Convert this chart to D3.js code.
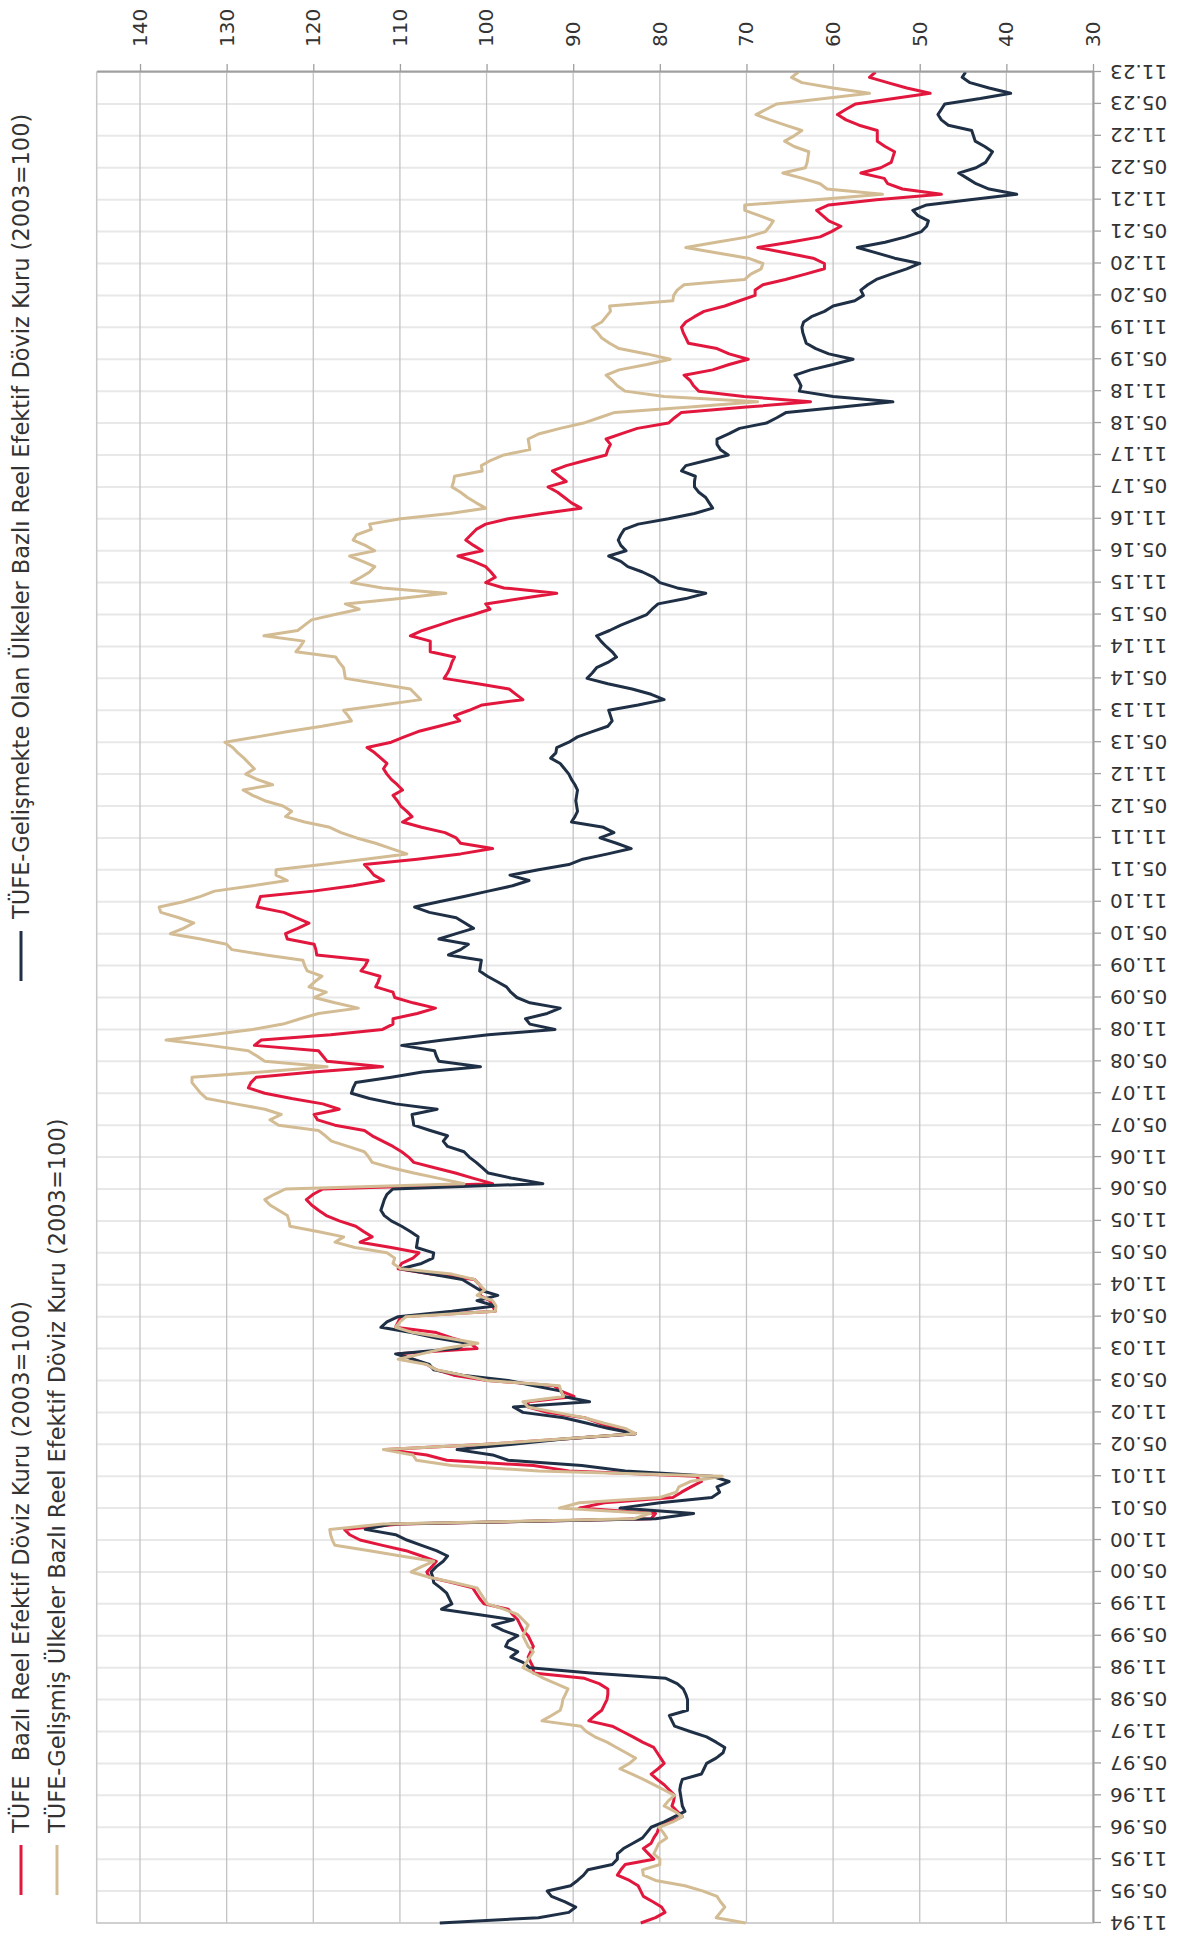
<!DOCTYPE html>
<html>
<head>
<meta charset="utf-8">
<script src="https://cdn.jsdelivr.net/npm/d3@7"></script>
<style>
  body { margin: 0; background: #ffffff; }
  svg { display: block; font-family: "DejaVu Sans", sans-serif; }
</style>
</head>
<body>
<div class="chart"></div>
<script>
// ************************ DATA ************************
// monthly values, Nov 1994 .. Nov 2023 (2003=100)

// TÜFE Bazlı Reel Efektif Döviz Kuru
const tufe = [
  82.2, 80.5, 79.4, 79.8, 80.8, 81.9, 82.2, 82.5, 83.5, 84.9, 84.5, 84.0,
  80.7, 81.3, 81.9, 81.0, 80.7, 80.3, 80.1, 78.8, 77.4, 78.0, 78.6, 78.4,
  78.3, 78.9, 79.5, 80.3, 81.0, 80.2, 79.5, 79.9, 80.3, 80.7, 82.0, 83.1,
  84.3, 85.5, 88.2, 87.5, 86.7, 86.4, 86.1, 86.0, 86.0, 87.0, 88.7, 94.6,
  94.6, 94.9, 95.2, 94.9, 94.6, 94.9, 95.2, 95.8, 96.1, 96.4, 97.0, 97.5,
  100.3, 100.8, 101.2, 101.6, 104.0, 106.6, 106.9, 106.3, 105.8, 107.5, 109.3, 112.0,
  114.6, 115.8, 116.4, 110.0, 81.0, 80.5, 89.3, 86.4, 78.5, 77.5, 76.4, 75.2,
  75.8, 90.5, 94.6, 104.6, 106.9, 111.6, 100.0, 91.1, 82.8, 85.2, 87.0, 88.7,
  93.0, 95.2, 95.2, 89.9, 91.4, 92.2, 99.9, 103.8, 105.8, 106.9, 108.5, 110.2,
  101.1, 101.9, 104.0, 105.8, 110.5, 110.2, 109.9, 99.0, 99.3, 99.6, 100.8, 100.5,
  100.8, 101.4, 106.4, 110.2, 109.8, 108.5, 107.8, 111.0, 114.6, 113.2, 114.2, 115.1,
  117.0, 118.5, 119.4, 120.2, 120.8, 120.0, 118.9, 99.3, 101.5, 103.6, 106.0, 108.4,
  109.0, 109.8, 110.8, 112.0, 113.2, 114.1, 117.5, 119.5, 119.9, 117.0, 118.9, 122.5,
  125.6, 127.5, 127.2, 126.6, 120.0, 112.0, 118.4, 118.9, 119.4, 126.8, 126.0, 118.0,
  112.0, 110.8, 110.8, 108.0, 105.9, 108.5, 110.6, 110.8, 112.8, 112.5, 112.3, 114.5,
  114.0, 113.7, 119.6, 119.7, 119.9, 123.0, 123.2, 121.8, 120.5, 122.0, 123.4, 126.5,
  126.3, 126.1, 120.0, 115.4, 111.9, 113.0, 113.5, 114.1, 108.0, 103.0, 99.3, 103.0,
  103.5, 104.8, 107.5, 109.7, 108.6, 109.2, 109.9, 110.3, 110.8, 109.7, 110.3, 111.0,
  111.5, 111.9, 111.5, 112.2, 112.9, 113.8, 111.0, 109.5, 107.9, 105.5, 103.1, 103.7,
  102.0, 100.5, 95.8, 96.6, 97.4, 101.0, 104.9, 104.5, 104.2, 104.0, 103.7, 106.5,
  106.5, 106.5, 108.8, 107.4, 105.5, 103.7, 101.5, 99.6, 100.1, 96.0, 91.9, 98.0,
  100.1, 99.0, 99.5, 100.1, 101.5, 103.3, 100.5, 101.5, 102.4, 101.8, 101.2, 100.1,
  97.5, 93.5, 89.1, 90.2, 91.0, 91.8, 92.9, 90.8, 91.6, 92.4, 90.8, 88.5,
  86.2, 86.0, 85.7, 86.2, 84.4, 82.6, 79.0, 78.3, 77.5, 70.0, 62.6, 70.3,
  75.5, 76.1, 76.5, 77.2, 73.9, 72.0, 69.8, 72.0, 73.4, 76.7, 77.0, 77.3,
  77.5, 77.0, 76.0, 74.9, 72.5, 70.8, 69.0, 69.0, 68.1, 65.5, 63.2, 61.0,
  61.0, 62.3, 65.5, 68.7, 65.0, 61.5, 60.2, 59.1, 60.5, 61.2, 61.9, 60.5,
  55.0, 47.5, 52.0, 53.7, 54.1, 56.8, 54.5, 53.3, 53.1, 52.9, 54.0, 54.9,
  54.9, 54.9, 57.0, 58.5, 59.5, 58.5, 57.4, 53.0, 48.8, 51.5, 53.7, 55.8,
  55.1
]

// TÜFE-Gelişmekte Olan Ülkeler Bazlı Reel Efektif Döviz Kuru
const gelismekte = [
  105.4, 94.0, 90.5, 89.7, 91.0, 92.5, 93.0, 90.3, 89.5, 88.8, 88.3, 85.5,
  84.9, 84.9, 84.2, 83.1, 82.0, 81.5, 81.0, 79.5, 78.3, 77.1, 77.4, 77.5,
  77.6, 77.7, 77.6, 77.4, 75.2, 74.9, 74.6, 73.5, 72.7, 72.5, 73.5, 74.6,
  76.5, 78.3, 78.6, 78.9, 76.8, 76.8, 76.8, 77.0, 77.3, 78.0, 79.3, 88.0,
  95.0, 95.8, 97.2, 96.4, 97.8, 97.5, 96.4, 98.1, 99.3, 96.9, 101.0, 105.2,
  104.0, 104.3, 104.6, 105.3, 106.1, 106.2, 106.4, 105.8, 105.0, 104.5, 105.8, 107.5,
  109.2, 110.5, 114.0, 111.0, 80.5, 76.1, 84.6, 80.0, 74.0, 73.1, 73.4, 72.0,
  74.0, 84.0, 89.0, 97.5, 99.3, 103.4, 97.0, 91.1, 82.8, 86.0, 88.5, 91.1,
  95.8, 96.9, 88.1, 91.1, 91.4, 94.5, 97.5, 102.8, 106.1, 106.6, 108.5, 110.5,
  103.4, 102.2, 105.8, 108.7, 112.2, 111.5, 110.2, 104.0, 99.0, 101.1, 98.7, 100.8,
  101.8, 102.8, 106.4, 109.9, 107.5, 106.2, 106.1, 108.1, 108.0, 107.9, 108.8, 109.8,
  111.0, 111.8, 112.2, 112.0, 111.8, 111.5, 110.8, 93.5, 97.0, 99.8, 100.5, 101.2,
  102.0, 102.6, 104.5, 105.0, 104.5, 106.5, 108.4, 108.5, 108.6, 105.7, 110.5, 113.5,
  115.6, 115.4, 115.1, 111.0, 107.4, 100.7, 105.5, 105.8, 106.0, 109.8, 105.0, 99.8,
  92.1, 95.0, 95.5, 93.0, 91.5, 95.0, 96.5, 97.2, 97.7, 98.8, 99.9, 100.8,
  100.7, 100.6, 104.4, 103.0, 102.1, 105.5, 103.5, 101.5, 102.5, 103.5, 106.6, 108.3,
  105.5, 102.6, 99.8, 97.0, 95.1, 97.3, 94.0, 90.5, 88.9, 86.0, 83.3, 85.0,
  86.9, 85.3, 86.5, 90.2, 89.8, 89.5, 89.6, 89.7, 89.6, 89.5, 89.8, 90.2,
  90.5, 91.0, 91.5, 92.6, 92.0, 91.9, 90.5, 89.5, 87.8, 86.0, 85.5, 85.7,
  85.9, 82.5, 79.5, 81.0, 83.2, 86.0, 88.4, 87.8, 87.3, 86.0, 85.0, 85.5,
  86.2, 86.8, 87.3, 85.8, 84.5, 83.0, 81.5, 80.9, 80.2, 77.0, 74.7, 78.0,
  80.0, 80.7, 82.0, 83.7, 84.5, 85.9, 83.9, 84.5, 84.8, 84.5, 84.1, 82.5,
  79.0, 76.0, 73.9, 74.3, 74.7, 75.5, 76.0, 76.0, 75.9, 77.5, 77.0, 74.5,
  72.1, 73.0, 73.4, 73.4, 72.0, 70.8, 67.7, 66.5, 65.4, 59.0, 53.1, 60.0,
  63.9, 63.7, 64.0, 64.4, 62.6, 60.0, 57.7, 60.5, 62.0, 63.1, 63.3, 63.5,
  63.6, 63.4, 62.5, 61.0, 60.0, 57.5, 56.5, 56.8, 56.0, 55.0, 53.3, 51.5,
  50.0, 52.9, 55.0, 57.2, 54.0, 51.6, 49.8, 49.2, 49.0, 50.2, 50.8, 49.2,
  44.2, 38.8, 42.0, 43.5, 44.5, 45.5, 43.5, 42.4, 42.0, 41.6, 42.5, 43.6,
  43.8, 44.0, 46.7, 47.5, 47.9, 47.5, 47.1, 43.0, 39.5, 42.0, 44.2, 45.1,
  44.7
]

// TÜFE-Gelişmiş Ülkeler Bazlı Reel Efektif Döviz Kuru
const gelismis = [
  70.1, 73.5, 73.0, 72.5, 73.0, 73.4, 75.0, 77.1, 80.5, 81.9, 82.0, 80.0,
  80.0, 80.7, 80.4, 80.1, 79.2, 79.6, 80.1, 78.5, 77.4, 78.3, 79.5, 79.0,
  78.3, 79.5, 80.7, 81.9, 83.2, 84.6, 83.5, 82.8, 83.9, 85.0, 86.1, 87.5,
  88.5, 89.1, 93.6, 92.5, 91.5, 91.3, 91.2, 90.9, 90.6, 92.0, 93.4, 94.6,
  95.8, 95.4, 95.0, 94.6, 95.2, 95.5, 95.8, 95.5, 95.2, 95.8, 96.4, 98.0,
  99.9, 100.3, 100.7, 101.1, 103.8, 106.6, 108.7, 107.5, 106.1, 109.9, 113.5, 117.5,
  117.8, 118.0, 118.1, 112.0, 83.0, 81.1, 91.6, 89.3, 80.0, 78.1, 77.8, 76.5,
  72.8, 94.0, 104.0, 108.1, 108.5, 111.9, 100.0, 91.5, 82.8, 84.0, 86.5, 88.7,
  92.0, 95.2, 95.8, 91.1, 91.4, 91.6, 99.9, 102.8, 105.8, 106.9, 110.2, 107.5,
  104.9, 101.0, 104.5, 108.5, 110.5, 110.0, 109.3, 99.0, 98.9, 99.3, 101.1, 100.2,
  100.8, 101.4, 104.0, 109.9, 110.8, 110.6, 111.5, 115.2, 117.5, 116.5, 119.5, 122.7,
  122.8, 123.0, 124.0, 125.0, 125.6, 124.5, 123.2, 102.6, 105.5, 108.4, 111.0, 113.2,
  113.6, 114.1, 116.0, 117.9, 118.6, 119.4, 124.0, 125.0, 123.7, 125.6, 129.0, 132.3,
  133.0, 133.5, 134.0, 134.0, 126.0, 118.4, 125.6, 126.5, 127.5, 132.0, 137.0, 131.8,
  127.0, 123.5, 121.5, 119.4, 114.8, 117.5, 119.9, 118.5, 120.5, 119.8, 119.0, 120.7,
  121.0, 121.2, 125.5, 129.4, 130.0, 133.0, 136.5, 135.0, 133.8, 135.5, 137.6, 137.8,
  135.0, 133.0, 131.4, 127.0, 123.0, 124.3, 124.3, 119.0, 114.0, 109.2, 111.0, 112.8,
  115.0, 116.8, 118.1, 121.0, 123.2, 122.5, 123.5, 125.6, 127.0, 128.1, 124.7, 126.5,
  127.8, 126.8, 127.4, 128.0, 128.7, 129.3, 130.2, 126.5, 122.9, 119.0, 115.6, 116.0,
  116.5, 112.0, 107.6, 108.2, 108.8, 112.5, 116.3, 116.4, 116.5, 117.0, 117.4, 122.0,
  121.5, 121.1, 125.7, 121.8, 121.0, 120.2, 117.5, 114.7, 116.3, 110.0, 104.7, 112.0,
  115.6, 114.5, 113.5, 112.9, 114.3, 115.8, 112.9, 114.0, 115.4, 115.0, 113.3, 113.5,
  109.9, 104.2, 100.1, 101.2, 102.2, 103.0, 104.0, 103.8, 103.7, 100.5, 100.6, 99.5,
  98.0, 95.0, 95.1, 95.2, 93.9, 91.5, 88.8, 87.0, 85.2, 76.5, 68.7, 79.5,
  84.0, 84.9, 85.5, 86.2, 84.7, 81.5, 78.8, 81.5, 84.7, 85.8, 86.7, 87.2,
  87.8, 86.7, 86.2, 85.7, 85.8, 78.5, 78.4, 78.0, 77.2, 70.2, 69.5, 68.3,
  68.1, 69.8, 73.5, 77.0, 73.5, 69.8, 67.8, 67.3, 66.9, 68.5, 70.2, 70.2,
  62.0, 54.3, 60.7, 61.5, 63.5, 65.8, 63.2, 63.0, 62.9, 62.8, 64.5, 65.6,
  64.5, 63.6, 65.5, 67.3, 68.9, 67.7, 66.5, 61.0, 55.8, 60.0, 63.6, 64.8,
  64.0
]

// labels on the date axis (every 6 months)
const tickLabels = [
  "11.94","05.95","11.95","05.96","11.96","05.97","11.97","05.98","11.98","05.99",
  "11.99","05.00","11.00","05.01","11.01","05.02","11.02","05.03","11.03","05.04",
  "11.04","05.05","11.05","05.06","11.06","05.07","11.07","05.08","11.08","05.09",
  "11.09","05.10","11.10","05.11","11.11","05.12","11.12","05.13","11.13","05.14",
  "11.14","05.15","11.15","05.16","11.16","05.17","11.17","05.18","11.18","05.19",
  "11.19","05.20","11.20","05.21","11.21","05.22","11.22","05.23","11.23"
]

// value axis ticks
const valueTicks = [30, 40, 50, 60, 70, 80, 90, 100, 110, 120, 130, 140]

// series names & colours, in drawing order
const seriesNames = [
  "TÜFE  Bazlı Reel Efektif Döviz Kuru (2003=100)",
  "TÜFE-Gelişmekte Olan Ülkeler Bazlı Reel Efektif Döviz Kuru (2003=100)",
  "TÜFE-Gelişmiş Ülkeler Bazlı Reel Efektif Döviz Kuru (2003=100)"
]
const seriesColors = ["#e2173d", "#1f3046", "#d3bc93"]
const seriesData = [tufe, gelismekte, gelismis]

// month categories "MM.YY" starting Nov 1994
const pad = (n) => (n < 10 ? "0" : "") + n
const months = tufe.map((d, i) => {
  const m = (10 + i) % 12 + 1
  const yr = 1994 + Math.floor((10 + i) / 12)
  return pad(m) + "." + pad(yr % 100)
})

// ************************ LAYOUT ************************
// the chart is drawn lying on its side: build it in a 1936 x 1186 frame
// and turn it 90 degrees counter-clockwise
const width = 1186
const height = 1936

const frame = { left: 13, right: 1864, top: 96.7, bottom: 1093 }
const textColor = "#333333"

const xScale = d3.scalePoint()
  .domain(months)
  .range([frame.left, frame.right])

const yScale = d3.scaleLinear()
  .domain([30, 145])
  .range([frame.bottom, frame.top])

const svg = d3.select(".chart")
  .append("svg")
  .attr("width", width)
  .attr("height", height)

svg.append("rect")
  .attr("width", width)
  .attr("height", height)
  .attr("fill", "#ffffff")

const g = svg.append("g")
  .attr("transform", "translate(0," + height + ") rotate(-90)")

// date gridlines (light)
g.append("g")
  .selectAll("line")
  .data(tickLabels)
  .enter()
  .append("line")
  .attr("x1", (d) => xScale(d))
  .attr("x2", (d) => xScale(d))
  .attr("y1", frame.top)
  .attr("y2", frame.bottom)
  .attr("stroke", "#e8e8e8")
  .attr("stroke-width", 2)

// value gridlines
g.append("g")
  .selectAll("line")
  .data(valueTicks.filter((d) => d > 30))
  .enter()
  .append("line")
  .attr("x1", frame.left)
  .attr("x2", frame.right)
  .attr("y1", (d) => yScale(d))
  .attr("y2", (d) => yScale(d))
  .attr("stroke", "#c3c3c3")
  .attr("stroke-width", 1.3)

// plot border
g.append("rect")
  .attr("x", frame.left)
  .attr("y", frame.top)
  .attr("width", frame.right - frame.left)
  .attr("height", frame.bottom - frame.top)
  .attr("fill", "none")
  .attr("stroke", "#c8c8c8")
  .attr("stroke-width", 1.5)

// series lines
const line = d3.line()
  .x((d, i) => xScale(months[i]))
  .y((d) => yScale(d))

g.append("g")
  .selectAll("path")
  .data(seriesData)
  .enter()
  .append("path")
  .attr("d", line)
  .attr("fill", "none")
  .attr("stroke", (d, i) => seriesColors[i])
  .attr("stroke-width", 3)
  .attr("stroke-linejoin", "round")

// value axis (ends up on top)
const yAxis = d3.axisRight(yScale)
  .tickValues(valueTicks)
  .tickSize(8)
  .tickSizeOuter(0)
  .tickPadding(17)

const yAxisG = g.append("g")
  .attr("transform", "translate(" + frame.right + ",0)")
  .call(yAxis)
yAxisG.select(".domain").attr("stroke", "#9f9f9f").attr("stroke-width", 2)
yAxisG.selectAll(".tick line").attr("stroke", "#9f9f9f").attr("stroke-width", 1.3)
yAxisG.selectAll("text")
  .attr("fill", textColor)
  .style("font-size", "20px")
  .style("font-family", "'DejaVu Sans', sans-serif")

// date axis (ends up on the right)
const xAxis = d3.axisBottom(xScale)
  .tickValues(tickLabels)
  .tickSize(8)
  .tickSizeOuter(0)

const xAxisG = g.append("g")
  .attr("transform", "translate(0," + frame.bottom + ")")
  .call(xAxis)
xAxisG.select(".domain").attr("stroke", "#9f9f9f").attr("stroke-width", 2)
xAxisG.selectAll(".tick line").attr("stroke", "#9f9f9f").attr("stroke-width", 1.3)
xAxisG.selectAll("text")
  .attr("transform", "rotate(-90)")
  .attr("x", -17)
  .attr("y", 0)
  .attr("dy", "0.35em")
  .style("text-anchor", "end")
  .attr("fill", textColor)
  .style("font-size", "20px")
  .style("font-family", "'DejaVu Sans', sans-serif")

// legend (ends up along the left edge)
const legendPos = [
  { x: 41, y: 21 },
  { x: 955, y: 21 },
  { x: 41, y: 57 }
]

const legend = g.append("g")
  .selectAll("g")
  .data(seriesNames)
  .enter()
  .append("g")
  .attr("transform", (d, i) => "translate(" + legendPos[i].x + "," + legendPos[i].y + ")")

legend.append("line")
  .attr("x1", 0)
  .attr("x2", 50)
  .attr("y1", 0)
  .attr("y2", 0)
  .attr("stroke", (d, i) => seriesColors[i])
  .attr("stroke-width", 3)

legend.append("text")
  .attr("x", 62)
  .attr("y", 8)
  .attr("fill", textColor)
  .style("font-size", "22.5px")
  .style("white-space", "pre")
  .text((d) => d)
</script>
</body>
</html>
